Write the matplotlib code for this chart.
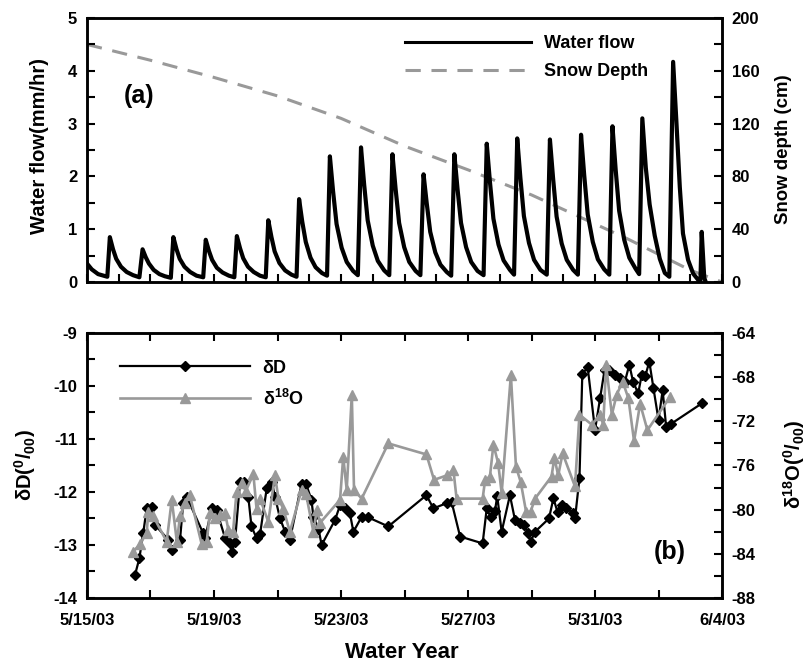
import matplotlib
matplotlib.use('Agg')
import matplotlib.pyplot as plt
from matplotlib.ticker import MultipleLocator, FixedLocator

plt.rcParams['font.family'] = ['Liberation Sans', 'DejaVu Sans']
plt.rcParams['font.weight'] = 'bold'
plt.rcParams['mathtext.default'] = 'regular'
plt.rcParams['axes.unicode_minus'] = False

# Water flow (mm/hr), time in days after 5/15/03 00:00
flow_day = [0.00, 0.15, 0.35, 0.64,
            0.72, 0.82, 0.92, 1.07, 1.25, 1.45, 1.65,
            1.75, 1.85, 1.95, 2.10, 2.28, 2.45, 2.64,
            2.72, 2.82, 2.92, 3.07, 3.25, 3.45, 3.66,
            3.74, 3.84, 3.94, 4.09, 4.27, 4.47, 4.64,
            4.72, 4.82, 4.92, 5.07, 5.25, 5.45, 5.63,
            5.71, 5.81, 5.91, 6.06, 6.24, 6.44, 6.60,
            6.68, 6.78, 6.89, 7.04, 7.20, 7.40, 7.56,
            7.65, 7.75, 7.86, 8.02, 8.18, 8.38, 8.53,
            8.63, 8.73, 8.84, 9.00, 9.16, 9.36, 9.52,
            9.62, 9.72, 9.83, 9.99, 10.15, 10.35, 10.50,
            10.60, 10.70, 10.81, 10.97, 11.13, 11.33, 11.47,
            11.57, 11.67, 11.78, 11.94, 12.10, 12.30, 12.49,
            12.59, 12.69, 12.80, 12.96, 13.12, 13.32, 13.45,
            13.55, 13.65, 13.76, 13.92, 14.08, 14.28, 14.48,
            14.58, 14.68, 14.79, 14.95, 15.11, 15.31, 15.46,
            15.56, 15.66, 15.77, 15.93, 16.09, 16.29, 16.45,
            16.55, 16.65, 16.76, 16.92, 17.08, 17.28, 17.39,
            17.49, 17.60, 17.72, 17.88, 18.04, 18.20, 18.34,
            18.46, 18.56, 18.67, 18.77, 18.93, 19.09, 19.25,
            19.32, 19.36, 19.40, 19.44, 19.47]
flow_val = [0.35, 0.24, 0.15, 0.10,
            0.85, 0.62, 0.44, 0.29, 0.19, 0.13, 0.09,
            0.62, 0.47, 0.35, 0.23, 0.15, 0.11, 0.08,
            0.85, 0.62, 0.44, 0.29, 0.19, 0.12, 0.09,
            0.80, 0.59, 0.42, 0.27, 0.18, 0.12, 0.09,
            0.87, 0.64, 0.45, 0.29, 0.19, 0.12, 0.09,
            1.17, 0.85, 0.58, 0.36, 0.22, 0.14, 0.10,
            1.57, 1.14, 0.76, 0.46, 0.28, 0.17, 0.12,
            2.38, 1.72, 1.10, 0.65, 0.38, 0.21, 0.13,
            2.55, 1.84, 1.17, 0.69, 0.40, 0.22, 0.13,
            2.42, 1.76, 1.12, 0.66, 0.38, 0.21, 0.13,
            2.04, 1.49, 0.95, 0.56, 0.33, 0.19, 0.12,
            2.42, 1.76, 1.12, 0.66, 0.38, 0.21, 0.13,
            2.62, 1.90, 1.20, 0.71, 0.41, 0.23, 0.14,
            2.72, 1.97, 1.25, 0.74, 0.42, 0.23, 0.14,
            2.70, 1.96, 1.24, 0.73, 0.42, 0.23, 0.14,
            2.79, 2.02, 1.28, 0.76, 0.43, 0.24, 0.14,
            2.95, 2.13, 1.35, 0.80, 0.46, 0.25, 0.15,
            3.10, 2.16, 1.47, 0.88, 0.44, 0.17, 0.10,
            4.17, 3.07, 1.80, 0.92, 0.42, 0.16, 0.04,
            0.03, 0.95, 0.50, 0.08, 0.03]

# Snow depth (cm)
snow_day = [0, 2, 4, 6, 8, 10, 12, 14, 16, 17, 18, 19, 20]
snow_cm = [180, 168, 155, 141, 124, 103, 85, 66, 44, 33, 21, 9, 0]

# deltaD (per mil, left axis)
dD_day = [1.51, 1.65, 1.77, 1.88, 2.04, 2.14, 2.56, 2.67, 2.93, 3.03, 3.14,
          3.66, 3.72, 3.93, 4.08, 4.35, 4.50, 4.56, 4.66, 4.82, 4.95, 5.08,
          5.18, 5.34, 5.45, 5.66, 5.82, 5.92, 6.08, 6.24, 6.39, 6.76, 6.90,
          7.07, 7.13, 7.29, 7.39, 7.81, 7.97, 8.13, 8.28, 8.39, 8.65, 8.86,
          9.49, 10.69, 10.91, 11.33, 11.48, 11.75, 12.46, 12.59, 12.71,
          12.85, 12.92, 13.06, 13.32, 13.48, 13.64, 13.75, 13.90, 13.97,
          14.11, 14.55, 14.69, 14.82, 14.95, 15.10, 15.30, 15.37, 15.51,
          15.60, 15.77, 16.00, 16.16, 16.30, 16.45, 16.63, 16.80, 16.94,
          17.08, 17.20, 17.36, 17.47, 17.58, 17.71, 17.84, 18.00, 18.13,
          18.24, 18.38, 19.36]
dD_val = [-13.57, -13.25, -12.78, -12.31, -12.29, -12.62, -12.90, -13.09,
          -12.90, -12.21, -12.09, -12.78, -12.87, -12.31, -12.34, -12.87,
          -12.97, -13.13, -12.94, -11.81, -11.82, -12.09, -12.65, -12.87,
          -12.80, -11.93, -11.81, -12.09, -12.50, -12.75, -12.90, -11.84,
          -11.85, -12.15, -12.47, -12.69, -13.00, -12.53, -12.25, -12.31,
          -12.40, -12.75, -12.47, -12.48, -12.65, -12.06, -12.31, -12.21,
          -12.18, -12.84, -12.97, -12.31, -12.47, -12.35, -12.08, -12.75,
          -12.06, -12.53, -12.59, -12.62, -12.78, -12.94, -12.75, -12.50,
          -12.12, -12.38, -12.25, -12.30, -12.40, -12.50, -11.74, -9.77,
          -9.65, -10.83, -10.23, -9.70, -9.70, -9.79, -9.85, -9.92, -9.60,
          -9.92, -10.14, -9.79, -9.82, -9.54, -10.04, -10.64, -10.08,
          -10.77, -10.72, -10.33]

# delta18O (per mil, right axis)
d18O_day = [1.46, 1.67, 1.88, 1.93, 2.09, 2.51, 2.67, 2.83, 2.93, 3.09, 3.24,
            3.61, 3.77, 3.87, 4.03, 4.20, 4.35, 4.45, 4.60, 4.71, 4.87, 5.00,
            5.24, 5.34, 5.45, 5.71, 5.92, 6.03, 6.18, 6.39, 6.76, 6.90, 7.13,
            7.24, 7.34, 7.97, 8.07, 8.18, 8.34, 8.41, 8.65, 9.49, 10.69,
            10.93, 11.33, 11.54, 11.64, 12.46, 12.54, 12.69, 12.80, 12.95,
            13.06, 13.35, 13.51, 13.66, 13.83, 13.97, 14.11, 14.63, 14.72,
            14.84, 14.98, 15.37, 15.51, 15.90, 16.16, 16.26, 16.35, 16.53,
            16.68, 16.87, 17.05, 17.23, 17.42, 17.65, 18.36]
d18O_val = [-83.8, -83.1, -82.1, -80.2, -80.6, -82.9, -79.1, -82.9, -80.6,
            -79.4, -78.7, -83.1, -82.9, -80.3, -80.8, -80.5, -80.3, -81.8,
            -82.0, -78.4, -77.6, -78.3, -76.8, -79.9, -79.0, -81.1, -76.9,
            -79.0, -79.9, -82.0, -78.2, -78.6, -82.0, -80.0, -81.2, -79.1,
            -75.2, -78.2, -69.6, -78.2, -79.0, -74.0, -75.0, -77.3, -76.9,
            -76.4, -79.0, -79.0, -77.3, -77.0, -74.1, -75.8, -78.5, -67.8,
            -76.1, -77.5, -80.2, -80.2, -79.0, -77.0, -75.3, -76.9, -74.9,
            -77.9, -71.4, -72.3, -71.4, -72.3, -66.9, -71.4, -69.6, -68.4,
            -69.9, -73.8, -70.4, -72.8, -69.8]

date_ticks = [0, 4, 8, 12, 16, 20]
date_labels = ['5/15/03', '5/19/03', '5/23/03', '5/27/03', '5/31/03', '6/4/03']

gray = '#999999'

fig = plt.figure(figsize=(8.07, 6.68), dpi=100)
ax1 = fig.add_axes([0.1078, 0.5778, 0.7869, 0.3952])
ax1r = ax1.twinx()
ax2 = fig.add_axes([0.1078, 0.1048, 0.7869, 0.3967])
ax2r = ax2.twinx()


def style(ax):
    for s in ax.spines.values():
        s.set_linewidth(1.8)
    ax.tick_params(which='both', direction='in', width=1.5, length=6,
                   labelsize=12)
    ax.tick_params(axis='y', pad=7)
    ax.tick_params(axis='x', pad=11)


for a in (ax1, ax1r, ax2, ax2r):
    style(a)

# (a) water flow + snow depth
ln_flow, = ax1.plot(flow_day, flow_val, color='black', lw=3.0,
                    solid_joinstyle='round', label='Water flow')
ln_snow, = ax1r.plot(snow_day, snow_cm, color=gray, lw=2.2,
                     dashes=(5, 3.5), label='Snow Depth')
ax1.set_zorder(ax1r.get_zorder() + 1)
ax1.patch.set_visible(False)

ax1.set_xlim(0, 20)
ax1.set_ylim(0, 5)
ax1r.set_ylim(0, 200)
ax1.xaxis.set_major_locator(MultipleLocator(1))
ax1.tick_params(axis='x', labelbottom=False)
ax1.yaxis.set_major_locator(MultipleLocator(1))
ax1.yaxis.set_minor_locator(MultipleLocator(0.5))
ax1r.yaxis.set_major_locator(MultipleLocator(40))
ax1r.yaxis.set_minor_locator(MultipleLocator(20))

leg1 = ax1.legend(handles=[ln_flow, ln_snow], loc='upper left',
                  bbox_to_anchor=(0.50, 0.936), frameon=False, fontsize=13,
                  handlelength=7.0, handletextpad=0.75, labelspacing=0.62,
                  borderpad=0, borderaxespad=0)
leg1.get_lines()[0].set_linewidth(2.2)
ax1.text(0.082, 0.705, '(a)', transform=ax1.transAxes, fontsize=18,
         ha='center', va='center')

# (b) isotopes
ln_d, = ax2.plot(dD_day, dD_val, color='black', lw=1.6, marker='D',
                 ms=5.2, label='δD')
ln_o, = ax2r.plot(d18O_day, d18O_val, color=gray, lw=1.9, marker='^',
                  ms=7, label='δ$^{18}$O')
ax2.set_xlim(0, 20)
ax2.set_ylim(-14, -9)
ax2r.set_ylim(-88, -64)
ax2.xaxis.set_major_locator(FixedLocator(date_ticks))
ax2.set_xticklabels(date_labels)
ax2.xaxis.set_minor_locator(MultipleLocator(2))
ax2.tick_params(axis='x', which='both', top=True)
ax2.yaxis.set_major_locator(MultipleLocator(1))
ax2.yaxis.set_minor_locator(MultipleLocator(0.5))
ax2r.yaxis.set_major_locator(MultipleLocator(4))
ax2r.yaxis.set_minor_locator(MultipleLocator(2))

ax2r.legend(handles=[ln_d, ln_o], loc='upper left',
            bbox_to_anchor=(0.052, 0.899), frameon=False, fontsize=13,
            handlelength=7.2, handletextpad=0.7, labelspacing=0.66,
            numpoints=1, borderpad=0, borderaxespad=0)
ax2.text(0.918, 0.174, '(b)', transform=ax2.transAxes, fontsize=18,
         ha='center', va='center')

# axis labels
fig.text(40 / 807, 1 - 146 / 668, 'Water flow(mm/hr)', rotation=90,
         ha='center', va='center', fontsize=14.5)
fig.text(783 / 807, 1 - 149 / 668, 'Snow depth (cm)', rotation=90,
         ha='center', va='center', fontsize=13.4)
fig.text(25 / 807, 1 - 465 / 668, 'δD($^{0}$/$_{00}$)', rotation=90,
         ha='center', va='center', fontsize=14.5)
fig.text(794 / 807, 1 - 464 / 668, 'δ$^{18}$O($^{0}$/$_{00}$)', rotation=90,
         ha='center', va='center', fontsize=14.5)
fig.text(402 / 807, 1 - 653 / 668, 'Water Year', ha='center', va='center',
         fontsize=16)

fig.savefig('out.png', dpi=100)
